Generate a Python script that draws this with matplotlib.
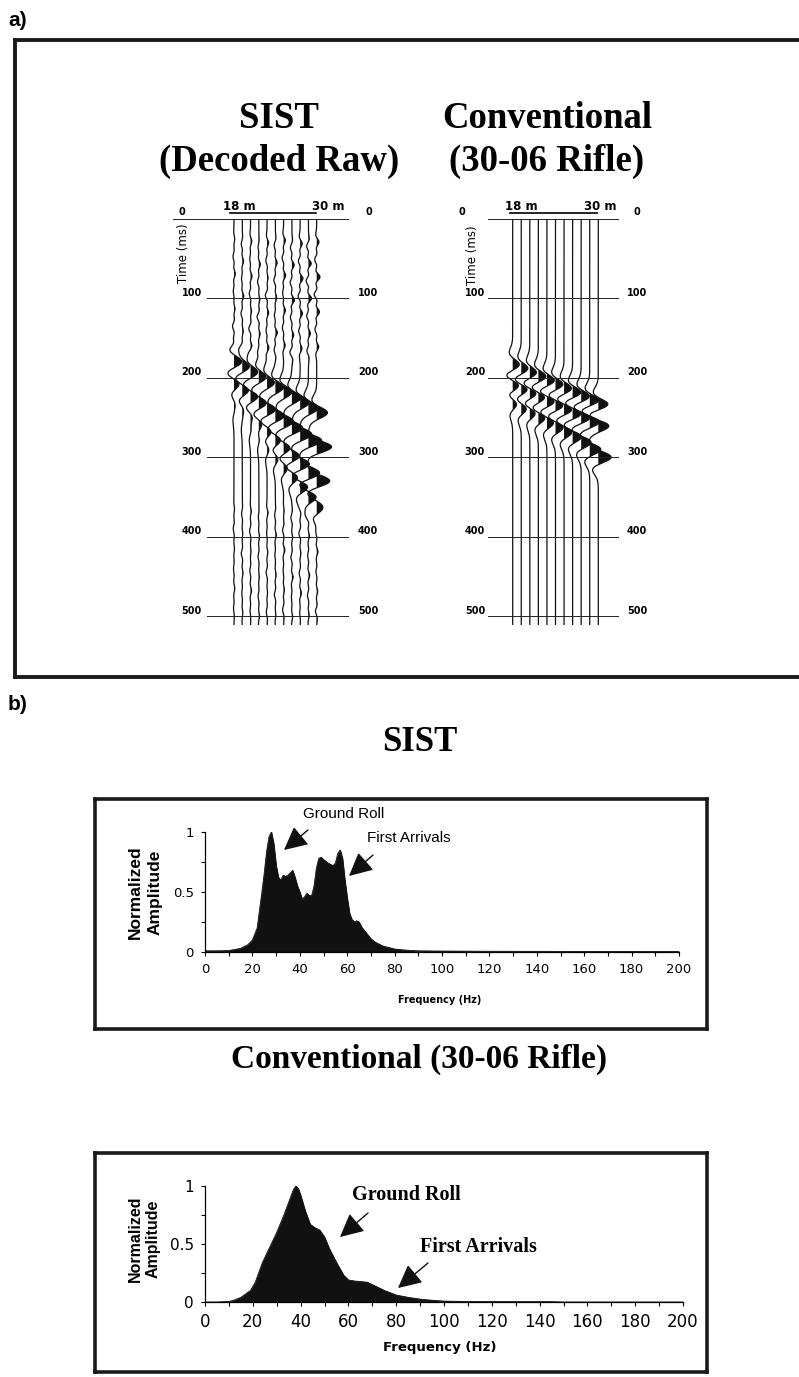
import numpy as np
import matplotlib.pyplot as plt

# ---- data ----
offsets = [18.0, 19.2, 20.4, 21.6, 22.8, 24.0, 25.2, 26.4, 27.6, 28.8, 30.0]
time_ticks = [0, 100, 200, 300, 400, 500]

# SIST (decoded raw) event picks per trace (ms) and amplitudes
sist_ev_t = [
    [180, 186, 193, 199, 206, 212, 218, 225, 231, 238, 244],
    [208, 216, 224, 232, 240, 248, 255, 263, 271, 279, 287],
    [228, 238, 248, 258, 268, 279, 289, 299, 309, 320, 330],
    [240, 252, 264, 276, 289, 301, 313, 325, 337, 350, 362],
]
sist_ev_a = [
    [1.0, 0.9, 0.9, 0.9, 0.9, 1.0, 1.0, 1.1, 1.1, 1.2, 1.3],
    [0.8, 0.9, 1.0, 1.0, 1.1, 1.1, 1.2, 1.3, 1.4, 1.6, 1.8],
    [0.3, 0.4, 0.5, 0.6, 0.7, 0.8, 0.9, 1.0, 1.2, 1.4, 1.6],
    [0.2, 0.2, 0.3, 0.3, 0.4, 0.5, 0.6, 0.8, 1.0, 1.0, 0.8],
]
# small background wiggles on the SIST traces
noise_t = [25, 47, 69, 91, 113, 135, 157, 365, 390, 415, 440, 465, 490]
noise_shift = [0, 6, 3, 10, 5, 8, 2, 11, 6, 9, 4]
sist_noise = [
    [0.15, -0.20, 0.25, -0.15, 0.20, -0.30, 0.25, 0.10, -0.15, 0.10, -0.10, 0.15, -0.10],
    [-0.20, 0.25, -0.15, 0.30, -0.25, 0.20, -0.30, -0.15, 0.10, -0.20, 0.15, -0.10, 0.10],
    [0.25, -0.15, 0.30, -0.25, 0.20, -0.35, 0.30, 0.15, -0.20, 0.10, -0.15, 0.20, -0.10],
    [-0.15, 0.30, -0.25, 0.20, -0.35, 0.25, -0.20, -0.10, 0.15, -0.15, 0.10, -0.15, 0.15],
    [0.30, -0.25, 0.20, -0.35, 0.30, -0.20, 0.35, 0.20, -0.10, 0.15, -0.20, 0.10, -0.15],
    [-0.25, 0.35, -0.30, 0.25, -0.20, 0.40, -0.25, -0.15, 0.20, -0.10, 0.15, -0.20, 0.10],
    [0.35, -0.30, 0.40, -0.20, 0.35, -0.25, 0.30, 0.10, -0.20, 0.25, -0.10, 0.15, -0.20],
    [-0.30, 0.45, -0.35, 0.50, -0.30, 0.35, -0.40, -0.20, 0.15, -0.20, 0.25, -0.10, 0.15],
    [0.40, -0.35, 0.55, -0.40, 0.45, -0.30, 0.35, 0.15, -0.25, 0.15, -0.20, 0.25, -0.10],
    [-0.35, 0.55, -0.45, 0.60, -0.35, 0.40, -0.30, -0.25, 0.20, -0.15, 0.25, -0.20, 0.15],
    [0.45, -0.40, 0.65, -0.50, 0.55, -0.35, 0.40, 0.20, -0.15, 0.25, -0.15, 0.20, -0.25],
]

# Conventional (30-06 rifle) event picks
conv_ev_t = [
    [184, 189, 194, 199, 204, 209, 214, 219, 224, 229, 234],
    [210, 215, 220, 225, 230, 235, 240, 245, 250, 255, 260],
    [232, 238, 244, 250, 256, 262, 268, 274, 281, 290, 300],
]
conv_ev_a = [
    [0.9, 0.9, 0.9, 1.0, 1.0, 1.0, 1.0, 1.1, 1.1, 1.2, 1.3],
    [1.0, 1.0, 1.0, 1.0, 1.1, 1.1, 1.1, 1.2, 1.2, 1.3, 1.4],
    [0.7, 0.8, 0.8, 0.9, 0.9, 1.0, 1.0, 1.1, 1.2, 1.3, 1.5],
]

# amplitude spectra
sist_f = [0, 5, 10, 15, 18, 20, 22, 23, 24, 25, 26, 27, 28, 29, 30, 31, 32, 33, 34, 35,
          36, 37, 38, 39, 40, 41, 42, 43, 44, 45, 46, 47, 48, 49, 50, 52, 54, 55, 56, 57,
          58, 59, 60, 61, 62, 63, 64, 65, 66, 68, 70, 72, 75, 80, 85, 90, 100, 120, 150, 200]
sist_amp = [0.01, 0.01, 0.012, 0.03, 0.06, 0.1, 0.2, 0.35, 0.5, 0.66, 0.84, 0.96, 1.0, 0.9, 0.72,
            0.62, 0.6, 0.64, 0.63, 0.64, 0.66, 0.68, 0.62, 0.55, 0.5, 0.44, 0.46, 0.49, 0.47, 0.47,
            0.55, 0.7, 0.78, 0.79, 0.77, 0.74, 0.72, 0.74, 0.82, 0.85, 0.78, 0.6, 0.45, 0.32, 0.27,
            0.25, 0.26, 0.25, 0.21, 0.16, 0.11, 0.08, 0.05, 0.025, 0.015, 0.01, 0.008, 0.006, 0.005, 0.004]
conv_f = [0, 5, 10, 12, 15, 17, 19, 21, 24, 27, 30, 33, 35, 37, 38, 39, 40, 42, 44, 46,
          48, 50, 52, 55, 58, 60, 63, 66, 68, 70, 75, 80, 85, 90, 95, 100, 110, 130, 145, 150, 200]
conv_amp = [0.0, 0.0, 0.005, 0.015, 0.04, 0.07, 0.1, 0.17, 0.34, 0.47, 0.6, 0.75, 0.86, 0.97, 1.0,
            0.98, 0.92, 0.78, 0.67, 0.64, 0.62, 0.56, 0.46, 0.34, 0.23, 0.19, 0.18, 0.175, 0.17, 0.15,
            0.1, 0.06, 0.04, 0.025, 0.015, 0.008, 0.004, 0.003, 0.003, 0.0, 0.0]

# ---- figure ----
W, H = 799, 1377
fig = plt.figure(figsize=(W / 100, H / 100), dpi=100)
bg = fig.add_axes([0, 0, 1, 1])
bg.set_xlim(0, W)
bg.set_ylim(H, 0)
bg.axis('off')

SERIF = ['Liberation Serif', 'DejaVu Serif']
SANS = ['Liberation Sans', 'DejaVu Sans']
NARROW = ['Liberation Sans Narrow', 'Liberation Sans', 'DejaVu Sans']


def box(x0, y0, x1, y1, right=True, lw=2.6):
    kw = dict(color='#1a1a1a', lw=lw, solid_capstyle='projecting')
    bg.plot([x0, x1], [y0, y0], **kw)
    bg.plot([x0, x1], [y1, y1], **kw)
    bg.plot([x0, x0], [y0, y1], **kw)
    if right:
        bg.plot([x1, x1], [y0, y1], **kw)


# panel labels and frames
bg.text(8, 20, 'a)', fontsize=15, fontweight='bold', family=NARROW, va='center')
bg.text(8, 705, 'b)', fontsize=15, fontweight='bold', family=NARROW, va='center')
box(15, 40, 801, 677, right=False, lw=2.8)
box(95, 799, 707, 1029)
box(95, 1153, 707, 1372)

# titles
for x, lines in [(279, ['SIST', '(Decoded Raw)']), (547, ['Conventional', '(30-06 Rifle)'])]:
    bg.text(x, 128, lines[0], fontsize=26.5, fontweight='bold', family=SERIF, ha='center', va='baseline')
    bg.text(x, 171, lines[1], fontsize=26.5, fontweight='bold', family=SERIF, ha='center', va='baseline')
bg.text(420, 751, 'SIST', fontsize=25, fontweight='bold', family=SERIF, ha='center', va='baseline')
bg.text(419, 1068, 'Conventional (30-06 Rifle)', fontsize=24, fontweight='bold', family=SERIF,
        ha='center', va='baseline')

# ---- seismic record sections ----
T0_PX = 219.0
PX_PER_MS = 0.794
T_MAX = 511
t = np.arange(0, T_MAX + 0.5, 0.5)


def ricker(tt, f):
    a = (np.pi * f * tt / 1000.0) ** 2
    return (1 - 2 * a) * np.exp(-a)


def section(px_left, px_right, tr_px0, tr_px1, ev_t, ev_a, noise=None, f=24):
    ax = fig.add_axes([px_left / W, 1 - (T0_PX + T_MAX * PX_PER_MS) / H,
                       (px_right - px_left) / W, T_MAX * PX_PER_MS / H])
    m_per_px = (offsets[-1] - offsets[0]) / (tr_px1 - tr_px0)
    ax.set_xlim(offsets[0] - (tr_px0 - px_left) * m_per_px,
                offsets[0] + (px_right - tr_px0) * m_per_px)
    ax.set_ylim(T_MAX, 0)
    ax.axis('off')
    for i, x0 in enumerate(offsets):
        s = np.zeros_like(t)
        for k in range(len(ev_t)):
            s += ev_a[k][i] * ricker(t - ev_t[k][i], f)
        if noise is not None:
            for j, tn in enumerate(noise_t):
                s += 0.6 * noise[i][j] * ricker(t - tn - noise_shift[i], 40)
        x = x0 + 1.2 * s
        ax.fill_betweenx(t, x0, x, where=s > 0, color='#111111', lw=0, interpolate=True)
        ax.plot(x, t, color='#111111', lw=0.9)
    return ax, (lambda px: offsets[0] + (px - tr_px0) * m_per_px)


lab = dict(fontsize=7, fontweight='bold', family='DejaVu Sans', va='baseline')

# left: SIST
ax, p2m = section(150, 400, 234, 316.7, sist_ev_t, sist_ev_a, noise=sist_noise)
for tk in time_ticks:
    x_start = 173 if tk == 0 else 206.7
    ax.plot([p2m(x_start), p2m(348.3)], [tk, tk], color='#222222', lw=0.7, clip_on=False)
    if tk == 0:
        ax.text(p2m(181.7), tk - 5, '0', ha='center', **lab)
        ax.text(p2m(369), tk - 5, '0', ha='center', **lab)
    else:
        ax.text(p2m(202), tk - 3, str(tk), ha='right', **lab)
        ax.text(p2m(358), tk - 3, str(tk), ha='left', **lab)
ax.plot([p2m(230), p2m(316)], [-8, -8], color='k', lw=1.2, clip_on=False)
ax.text(p2m(239), -16, '18 m', ha='center', va='center', fontsize=8.5, fontweight='bold')
ax.text(p2m(328), -16, '30 m', ha='center', va='center', fontsize=8.5, fontweight='bold')
ax.text(p2m(183.3), 43, 'Time (ms)', rotation=90, ha='center', va='center', fontsize=8.5)

# right: Conventional
ax, p2m = section(430, 700, 512.7, 598.3, conv_ev_t, conv_ev_a, f=24)
for tk in time_ticks:
    ax.plot([p2m(488.3), p2m(618.3)], [tk, tk], color='#222222', lw=0.7, clip_on=False)
    if tk == 0:
        ax.text(p2m(461.7), tk - 5, '0', ha='center', **lab)
        ax.text(p2m(637), tk - 5, '0', ha='center', **lab)
    else:
        ax.text(p2m(485), tk - 3, str(tk), ha='right', **lab)
        ax.text(p2m(627), tk - 3, str(tk), ha='left', **lab)
ax.plot([p2m(510), p2m(596.7)], [-8, -8], color='k', lw=1.2, clip_on=False)
ax.text(p2m(521.7), -16, '18 m', ha='center', va='center', fontsize=8.5, fontweight='bold')
ax.text(p2m(600), -16, '30 m', ha='center', va='center', fontsize=8.5, fontweight='bold')
ax.text(p2m(472.7), 45, 'Time (ms)', rotation=90, ha='center', va='center', fontsize=8.5)


# ---- amplitude spectra ----
def spectrum(px_box, f, a, tick_fs):
    x0, y0, x1, y1 = px_box
    ax = fig.add_axes([x0 / W, 1 - y1 / H, (x1 - x0) / W, (y1 - y0) / H])
    ax.fill_between(f, 0, a, color='#111111', lw=0.6)
    ax.plot(f, a, color='#111111', lw=0.6)
    ax.set_xlim(0, 200)
    ax.set_ylim(0, 1)
    for sp in ['top', 'right']:
        ax.spines[sp].set_visible(False)
    for sp in ['left', 'bottom']:
        ax.spines[sp].set_linewidth(0.9)
    ax.set_xticks(range(0, 201, 20))
    ax.set_xticks(range(10, 200, 20), minor=True)
    ax.set_yticks([0, 0.5, 1])
    ax.set_yticklabels(['0', '0.5', '1'])
    ax.set_yticks([0.25, 0.75], minor=True)
    ax.tick_params(which='both', direction='out', length=3, width=0.8, labelsize=tick_fs, pad=5)
    ax.patch.set_alpha(0)
    return ax


ax1 = spectrum((205, 832, 679, 952), sist_f, sist_amp, 9.5)
bg.text(135, 892, 'Normalized', rotation=90, ha='center', va='center', fontsize=12.5,
        fontweight='bold', family=SANS)
bg.text(155, 892, 'Amplitude', rotation=90, ha='center', va='center', fontsize=12.5,
        fontweight='bold', family=SANS)
bg.text(440, 1000, 'Frequency (Hz)', ha='center', va='center', fontsize=7, fontweight='bold')
bg.text(303, 814, 'Ground Roll', fontsize=11, family=SANS, va='center')
bg.text(367, 838, 'First Arrivals', fontsize=11, family=SANS, va='center')

ax2 = spectrum((205, 1186, 683, 1302), conv_f, conv_amp, 12)
ax2.tick_params(axis='y', labelsize=11)
bg.text(135, 1239, 'Normalized', rotation=90, ha='center', va='center', fontsize=11.5,
        fontweight='bold', family=SANS)
bg.text(153, 1239, 'Amplitude', rotation=90, ha='center', va='center', fontsize=11.5,
        fontweight='bold', family=SANS)
bg.text(440, 1348, 'Frequency (Hz)', ha='center', va='center', fontsize=9.5, fontweight='bold')
bg.text(352, 1195, 'Ground Roll', fontsize=14.5, fontweight='bold', family=SERIF, va='center')
bg.text(420, 1247, 'First Arrivals', fontsize=14.5, fontweight='bold', family=SERIF, va='center')

arrow = dict(arrowstyle='-|>,head_length=0.9,head_width=0.45', color='#111111', lw=1.0,
             mutation_scale=16, shrinkA=0, shrinkB=0)
for tail, tip in [((308, 830), (284, 850)), ((373, 855), (349, 876)),
                  ((368, 1213), (340, 1237)), ((428, 1263), (398, 1288))]:
    bg.annotate('', xy=tip, xytext=tail, arrowprops=arrow)

fig.savefig('out.png', dpi=100)
